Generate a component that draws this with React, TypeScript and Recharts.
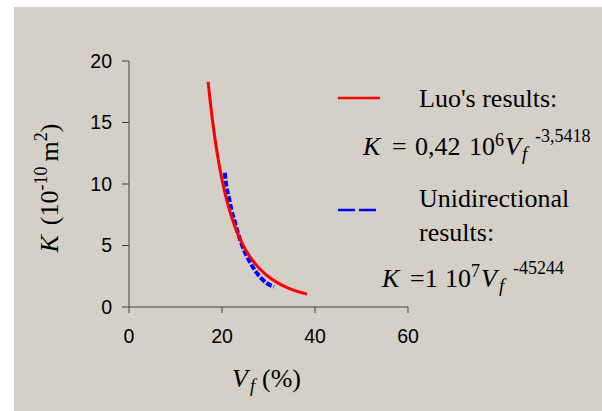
import React from 'react';
import { LineChart, Line, XAxis, YAxis, Customized } from 'recharts';

// Luo's results (red solid curve): Vf (%) vs K (1e-10 m^2)
const luoVf = [17, 18, 19, 20, 21, 22, 23, 24, 25, 26, 28, 30, 32, 34, 36, 38.3];
const luoK = [18.3, 15.04, 12.42, 10.35, 8.71, 7.39, 6.31, 5.43, 4.7, 4.09, 3.15, 2.46, 1.96, 1.58, 1.29, 1.05];

// Unidirectional results (blue dashed curve)
const uniVf = [20.6, 20.95, 21.44, 22.02, 22.73, 23.44, 24.17, 25.03, 25.96, 27.03, 28.47, 29.89, 31.18];
const uniK = [10.92, 9.78, 8.97, 7.89, 6.94, 5.99, 5.18, 4.37, 3.68, 3.01, 2.33, 1.87, 1.65];

const xTicks = [0, 20, 40, 60];
const yTicks = [0, 5, 10, 15, 20];

const luoData = luoVf.map((vf, i) => ({ vf, k: luoK[i] }));
const uniData = uniVf.map((vf, i) => ({ vf, k: uniK[i] }));

const serif = '"Liberation Serif", "Times New Roman", serif';
const sans = '"Liberation Sans", Arial, sans-serif';

const Overlay = () => (
  <g fontFamily={serif} fill="#000">
    {/* legend samples */}
    <line x1={338} y1={98} x2={380} y2={98} stroke="#ff0000" strokeWidth={2.5} />
    <line x1={338} y1={210} x2={355} y2={210} stroke="#0000ff" strokeWidth={2.5} />
    <line x1={359} y1={210} x2={376} y2={210} stroke="#0000ff" strokeWidth={2.5} />

    <text x={419} y={107} fontSize={26}>Luo's results:</text>
    <text y={155} fontSize={26}>
      <tspan x={363} fontStyle="italic">K</tspan>
      <tspan x={392}>=</tspan>
      <tspan x={415}>0,42</tspan>
      <tspan x={469}>10</tspan>
      <tspan x={495} y={146} fontSize={18}>6</tspan>
      <tspan x={505} y={155} fontStyle="italic">V</tspan>
      <tspan x={522} y={160} fontSize={19} fontStyle="italic">f</tspan>
      <tspan x={535} y={142} fontSize={18}>-3,5418</tspan>
    </text>

    <text x={419} y={207} fontSize={26}>Unidirectional</text>
    <text x={419} y={241} fontSize={26}>results:</text>
    <text y={287} fontSize={26}>
      <tspan x={382} fontStyle="italic">K</tspan>
      <tspan x={410}>=1</tspan>
      <tspan x={445}>10</tspan>
      <tspan x={471} y={277} fontSize={18}>7</tspan>
      <tspan x={481} y={287} fontStyle="italic">V</tspan>
      <tspan x={499} y={292} fontSize={19} fontStyle="italic">f</tspan>
      <tspan x={513} y={274} fontSize={18}>-45244</tspan>
    </text>

    {/* x axis title */}
    <text y={387} fontSize={26}>
      <tspan x={232} fontStyle="italic">V</tspan>
      <tspan x={250} y={392} fontSize={18} fontStyle="italic">f</tspan>
      <tspan x={262} y={387}>(%)</tspan>
    </text>

    {/* y axis title */}
    <text x={58} y={188} fontSize={26} textAnchor="middle" transform="rotate(-90 58 188)">
      <tspan fontStyle="italic">K</tspan>
      <tspan dx={10}>(10</tspan>
      <tspan fontSize={18} dy={-11}>-10</tspan>
      <tspan dx={5} dy={11}>m</tspan>
      <tspan fontSize={18} dy={-11}>2</tspan>
      <tspan dy={11}>)</tspan>
    </text>
  </g>
);

export default function App() {
  return (
    <div style={{ position: 'absolute', left: 0, top: 0, width: 602, height: 411, background: '#ffffff' }}>
      <div style={{ position: 'absolute', left: 14, top: 7, width: 588, height: 404, background: '#d4d0c8' }} />
      <div style={{ position: 'absolute', left: 0, top: 0 }}>
        <LineChart width={602} height={411} margin={{ top: 61, right: 194, bottom: 74, left: 69 }}>
          <XAxis
            type="number"
            dataKey="vf"
            domain={[0, 60]}
            ticks={xTicks}
            allowDataOverflow
            stroke="#404040"
            tickSize={6}
            tickMargin={16}
            height={30}
            tick={{ fill: '#000', fontSize: 19.5, fontFamily: sans }}
          />
          <YAxis
            type="number"
            dataKey="k"
            domain={[0, 20]}
            ticks={yTicks}
            allowDataOverflow
            stroke="#404040"
            tickSize={7}
            tickMargin={10}
            width={60}
            tick={{ fill: '#000', fontSize: 19.5, fontFamily: sans }}
          />
          <Line
            data={uniData}
            dataKey="k"
            type="monotone"
            stroke="#0000ff"
            strokeWidth={4}
            strokeDasharray="6 2"
            dot={false}
            isAnimationActive={false}
          />
          <Line
            data={luoData}
            dataKey="k"
            type="monotone"
            stroke="#ff0000"
            strokeWidth={3}
            dot={false}
            isAnimationActive={false}
          />
          <Customized component={Overlay} />
        </LineChart>
      </div>
    </div>
  );
}
